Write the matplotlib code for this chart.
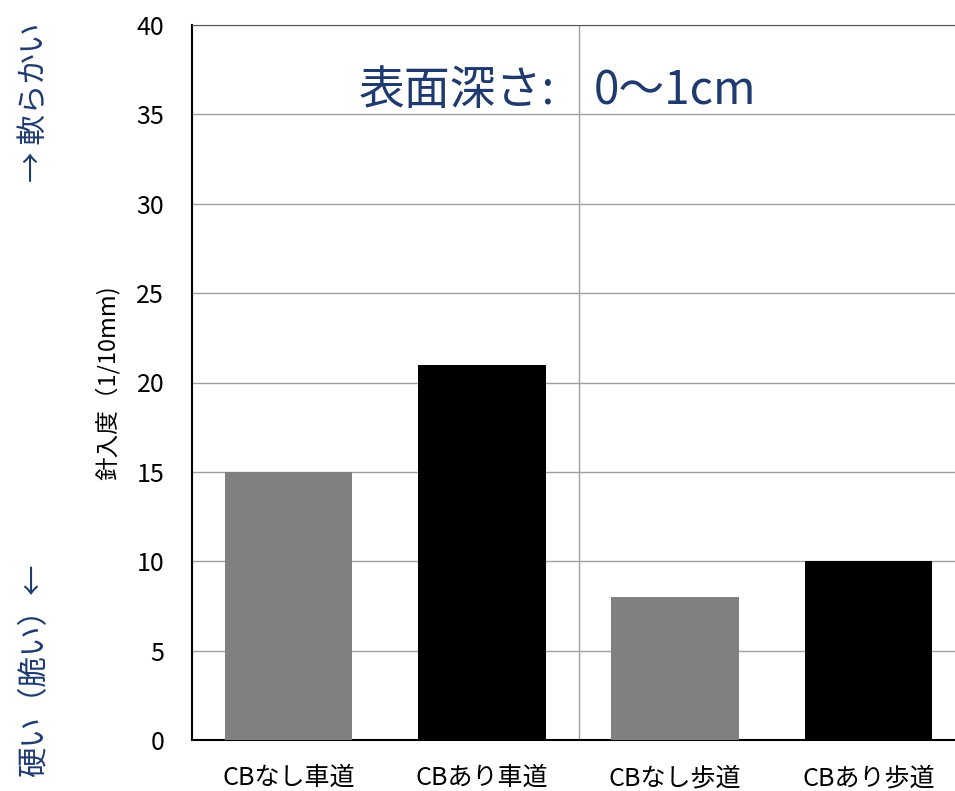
import numpy as np
import matplotlib.pyplot as plt

plt.rcParams['font.family'] = ['Noto Sans CJK JP', 'DejaVu Sans']

# データ
categories = ['CBなし車道', 'CBあり車道', 'CBなし歩道', 'CBあり歩道']
values = [15, 21, 8, 10]
bar_colors = ['#808080', '#000000', '#808080', '#000000']
yticks = [0, 5, 10, 15, 20, 25, 30, 35, 40]

navy = '#1F3A6E'

fig = plt.figure(figsize=(9.55, 7.91), dpi=100)
ax = fig.add_axes([192 / 955, 51 / 791, (965 - 192) / 955, 715 / 791])

x = np.arange(len(categories))
ax.bar(x, values, width=0.66, color=bar_colors, zorder=3)

ax.set_xlim(-0.5, 3.5)
ax.set_ylim(0, 40)
ax.set_yticks(yticks)
ax.set_xticks(x)
ax.set_xticklabels(categories, fontsize=18)
ax.tick_params(axis='y', labelsize=18, length=0, pad=20)
ax.tick_params(axis='x', length=0, pad=18)

# グリッド線と区切り線
ax.grid(axis='y', color='#A0A0A0', linewidth=1, zorder=0)
ax.axvline(1.5, color='#A0A0A0', linewidth=1, zorder=1)

ax.spines['right'].set_visible(False)
ax.spines['top'].set_color('#555555')
ax.spines['left'].set_linewidth(1.5)
ax.spines['bottom'].set_linewidth(1.5)

ax.set_ylabel('針入度（1/10mm)', fontsize=17, labelpad=12)

ax.text(1.38, 36.3, '表面深さ:', ha='right', va='center', fontsize=33, color=navy)
ax.text(1.58, 36.3, '0〜1cm', ha='left', va='center', fontsize=33, color=navy)

# 左側の注釈
fig.text(35 / 955, 1 - 102 / 791, '→ 軟らかい', rotation=90, ha='center', va='center',
         fontsize=22, color=navy)
fig.text(35 / 955, 1 - 670 / 791, '硬い（脆い）←', rotation=90, ha='center', va='center',
         fontsize=22, color=navy)

fig.savefig('out.png', dpi=100)
